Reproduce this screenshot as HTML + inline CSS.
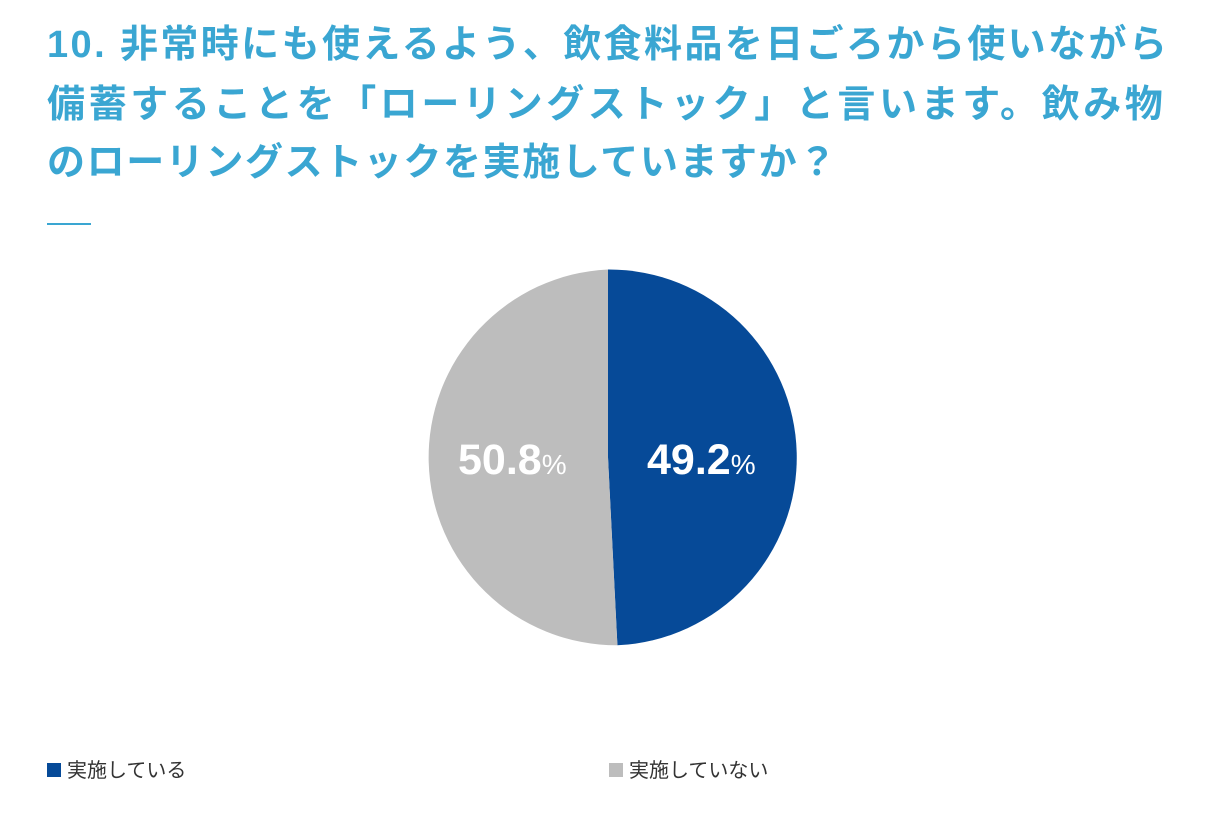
<!DOCTYPE html>
<html><head><meta charset="utf-8"><style>
body{margin:0;width:1217px;height:833px;background:#fff;position:relative;overflow:hidden;font-family:"Liberation Sans","Noto Sans CJK JP",sans-serif}
.t{position:absolute;left:47px;color:#3aa6d2;font-size:38px;font-weight:bold;white-space:nowrap;line-height:40px}
.leg{position:absolute;top:760px;font-size:20px;color:#333;white-space:nowrap;line-height:22px}
.sq{display:inline-block;width:14px;height:14px;margin-right:6px;vertical-align:0px}
</style></head><body>
<div class="t" style="top:25px;letter-spacing:2.4px">10. 非常時にも使えるよう、飲食料品を日ごろから使いながら</div>
<div class="t" style="top:85px;letter-spacing:3.6px">備蓄することを「ローリングストック」と言います。飲み物</div>
<div class="t" style="top:143px;letter-spacing:1.6px">のローリングストックを実施していますか？</div>
<div style="position:absolute;left:47px;top:223px;width:44px;height:2px;background:#3aa6d2"></div>
<svg style="position:absolute;left:0;top:0" width="1217" height="833">
<path d="M608,457.5 L608,269.5 A188,188 0 0,1 617.4,645.3 Z" fill="#064a98"/>
<path d="M608,457.5 L617.4,645.3 A188,188 0 0,1 608,269.5 Z" fill="#bdbdbd"/>
<text x="458" y="474" fill="#fff" font-size="43" font-weight="bold" font-family="Liberation Sans, sans-serif">50.8<tspan font-size="28" font-weight="normal">%</tspan></text>
<text x="647" y="474" fill="#fff" font-size="43" font-weight="bold" font-family="Liberation Sans, sans-serif">49.2<tspan font-size="28" font-weight="normal">%</tspan></text>
</svg>
<div class="leg" style="left:47px"><span class="sq" style="background:#064a98"></span>実施している</div>
<div class="leg" style="left:609px"><span class="sq" style="background:#bdbdbd"></span>実施していない</div>
</body></html>
